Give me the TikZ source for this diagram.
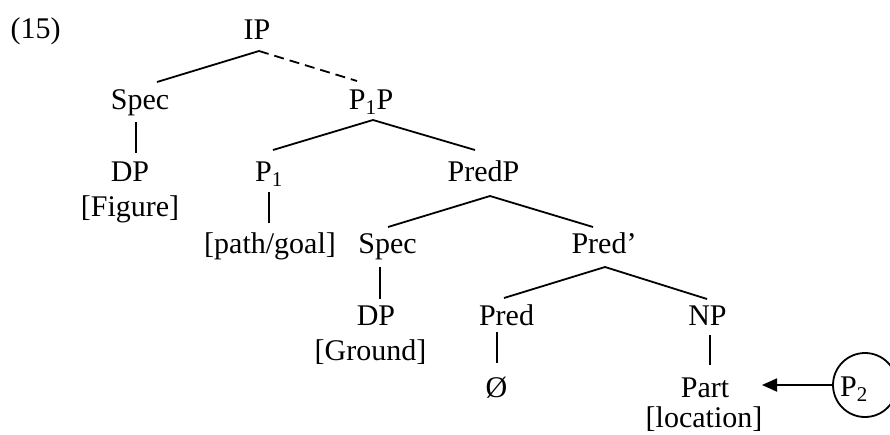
\documentclass[tikz,border=0pt]{standalone}
\usepackage{fontspec}
\setmainfont{Liberation Serif}
\usetikzlibrary{arrows.meta}
\begin{document}
\begin{tikzpicture}[x=1pt,y=-1pt,
  lab/.style={anchor=base,inner sep=0pt,font=\fontsize{30}{36}\selectfont},
  edge/.style={line width=1.8pt},
  dashedge/.style={line width=1.8pt,dash pattern=on 10pt off 6pt}]
\useasboundingbox (0,0) rectangle (890,434);
% nodes
\node[lab] (n15) at (35.5,38) {(15)};
\node[lab] (ip) at (257,39) {IP};
\node[lab] (spec1) at (140,109) {Spec};
\node[lab] (p1p) at (371,109) {P\textsubscript{1}P};
\node[lab] (dp1) at (130,181) {DP};
\node[lab] (fig) at (130,216) {[Figure]};
\node[lab] (p1) at (269,181) {P\textsubscript{1}};
\node[lab] (path) at (270,253) {[path/goal]};
\node[lab] (predp) at (483.5,181) {PredP};
\node[lab] (spec2) at (387.5,253) {Spec};
\node[lab] (predq) at (604,253) {Pred’};
\node[lab] (dp2) at (376,325) {DP};
\node[lab] (ground) at (370.5,360) {[Ground]};
\node[lab] (pred) at (506.5,325) {Pred};
\node[lab] (empty) at (496.5,397) {Ø};
\node[lab] (np) at (707.5,325) {NP};
\node[lab] (part) at (705,397) {Part};
\node[lab] (loc) at (704,427) {[location]};
\node[draw,circle,line width=1.8pt,minimum size=64pt,inner sep=0pt] (p2c) at (865,385) {};
\node[lab] (p2) at (854,396) {P\textsubscript{2}};
% edges
\draw[edge] ([shift={(2,12)}]ip.base) -- ([shift={(17,-27)}]spec1.base);
\draw[dashedge] ([shift={(2,12)}]ip.base) -- ([shift={(-14,-28)}]p1p.base);
\draw[edge] ([shift={(-4,13)}]spec1.base) -- ([shift={(6,-28)}]dp1.base);
\draw[edge] ([shift={(2,11)}]p1p.base) -- ([shift={(4,-31)}]p1.base);
\draw[edge] ([shift={(2,11)}]p1p.base) -- ([shift={(-8.5,-31)}]predp.base);
\draw[edge] ([shift={(0,11)}]p1.base) -- ([shift={(-1,-30)}]path.base);
\draw[edge] ([shift={(6.5,15)}]predp.base) -- ([shift={(0.5,-26)}]spec2.base);
\draw[edge] ([shift={(6.5,15)}]predp.base) -- ([shift={(-11,-26)}]predq.base);
\draw[edge] ([shift={(-7.5,14)}]spec2.base) -- ([shift={(4,-26)}]dp2.base);
\draw[edge] ([shift={(1,14)}]predq.base) -- ([shift={(-2.5,-27)}]pred.base);
\draw[edge] ([shift={(1,14)}]predq.base) -- ([shift={(-0.5,-26)}]np.base);
\draw[edge] ([shift={(-9.5,7)}]pred.base) -- ([shift={(0.5,-34)}]empty.base);
\draw[edge] ([shift={(2.5,10)}]np.base) -- ([shift={(5,-32)}]part.base);
\draw[edge,-{Triangle[length=15pt,width=13pt]}] (p2c.west) -- ([shift={(57,-12)}]part.base);
\end{tikzpicture}
\end{document}
